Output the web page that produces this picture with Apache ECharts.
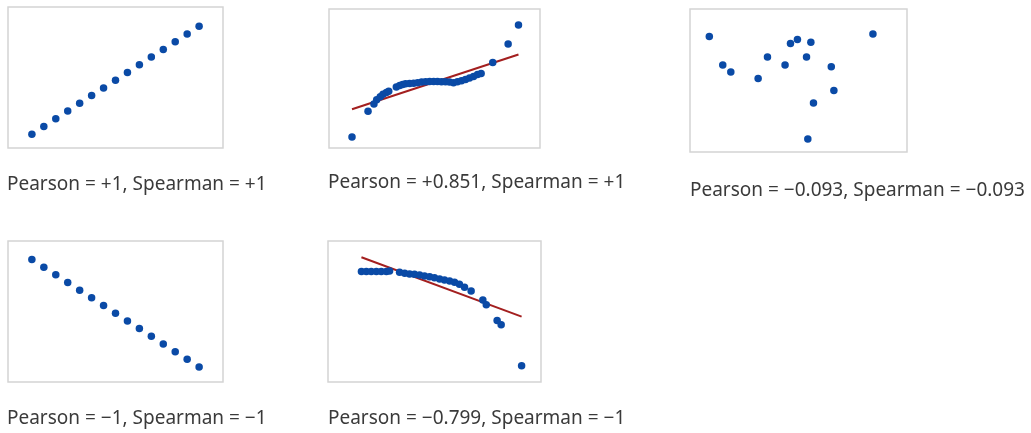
<!DOCTYPE html>
<html>
<head>
<meta charset="utf-8">
<script src="https://cdn.jsdelivr.net/npm/echarts@6/dist/echarts.min.js"></script>
<style>
  html, body { margin: 0; padding: 0; background: #fff; }
  #chart { width: 1031px; height: 433px; }
</style>
</head>
<body>
<div id="chart"></div>
<script>
// panel 1: perfect positive (rank index vs value)
const p1X = [1, 2, 3, 4, 5, 6, 7, 8, 9, 10, 11, 12, 13, 14, 15];
const p1Y = [1, 2, 3, 4, 5, 6, 7, 8, 9, 10, 11, 12, 13, 14, 15];

// panel 2: monotonic, not linear (values in % of the frame)
const p2X = [10.9, 18.5, 21.3, 22.6, 24.3, 25.6, 27.2, 28.3, 31.9, 33.5, 34.9, 36.3, 38.2, 40.1, 42.0, 43.9, 45.8,
  47.7, 49.6, 51.4, 53.3, 55.2, 57.1, 59.0, 60.9, 62.8, 64.7, 66.6, 68.5, 70.4, 72.1, 77.6, 84.9, 89.8];
const p2Y = [7.9, 26.5, 31.7, 34.8, 36.8, 38.7, 39.9, 40.9, 43.8, 45.0, 45.7, 46.3, 46.4, 46.6, 46.9, 47.4, 47.7,
  47.9, 47.9, 47.9, 47.7, 47.6, 47.4, 47.0, 47.6, 48.3, 49.2, 50.3, 51.5, 52.8, 53.6, 61.6, 74.8, 88.5];
const p2FitX = [10.9, 89.8];
const p2FitY = [27.9, 67.3];

// panel 3: no correlation
const p3X = [8.9, 15.1, 18.8, 31.4, 35.7, 43.8, 46.3, 49.5, 53.7, 55.7, 54.3, 56.9, 65.1, 66.3, 84.3];
const p3Y = [80.7, 60.9, 56.0, 51.4, 66.5, 60.9, 75.8, 78.6, 66.5, 76.8, 9.1, 34.2, 59.7, 43.0, 82.6];

// panel 4: perfect negative
const p4X = [1, 2, 3, 4, 5, 6, 7, 8, 9, 10, 11, 12, 13, 14, 15];
const p4Y = [15, 14, 13, 12, 11, 10, 9, 8, 7, 6, 5, 4, 3, 2, 1];

// panel 5: monotonic decreasing, not linear
const p5X = [15.7, 18.0, 20.3, 22.7, 25.0, 27.4, 28.9, 33.6, 36.0, 38.3, 40.6, 43.0, 45.3, 47.7, 50.0, 52.4,
  54.7, 57.1, 59.4, 61.7, 64.1, 67.2, 72.7, 74.3, 79.4, 81.3, 90.9];
const p5Y = [78.3, 78.3, 78.3, 78.3, 78.3, 78.3, 78.8, 77.8, 77.1, 76.6, 76.4, 75.9, 75.2, 74.7, 74.0, 73.1,
  72.4, 71.7, 70.8, 69.4, 67.2, 64.6, 58.2, 54.7, 43.6, 40.6, 11.5];
const p5FitX = [15.7, 90.9];
const p5FitY = [88.5, 46.4];

const captions = [
  'Pearson = +1, Spearman = +1',
  'Pearson = +0.851, Spearman = +1',
  'Pearson = \u22120.093, Spearman = \u22120.093',
  'Pearson = \u22121, Spearman = \u22121',
  'Pearson = \u22120.799, Spearman = \u22121'
];

const dotColor = '#0a4aa6';
const fitColor = '#a31f1f';

const zip = (xs, ys) => xs.map((x, i) => [x, ys[i]]);

// frames: grid box + axis ranges
const frames = [
  { left: 8, top: 7, width: 215, height: 141, x: [-1, 17], y: [-0.8, 17.5] },
  { left: 329, top: 9, width: 211, height: 139, x: [0, 100], y: [0, 100] },
  { left: 690, top: 9, width: 217, height: 143, x: [0, 100], y: [0, 100] },
  { left: 8, top: 241, width: 215, height: 141, x: [-1, 17], y: [-0.95, 17.4] },
  { left: 328, top: 241, width: 213, height: 141, x: [0, 100], y: [0, 100] }
];

// caption top-left corners
const captionPos = [[7, 175], [328, 173], [690, 181], [7, 409], [328, 409]];

let chart = echarts.init(document.getElementById('chart'));

const scatter = (i, xs, ys) => ({
  type: 'scatter',
  xAxisIndex: i,
  yAxisIndex: i,
  symbolSize: 7.5,
  itemStyle: { color: dotColor, opacity: 1 },
  data: zip(xs, ys),
  z: 3
});
const fit = (i, xs, ys) => ({
  type: 'line',
  xAxisIndex: i,
  yAxisIndex: i,
  symbol: 'none',
  lineStyle: { color: fitColor, width: 2 },
  data: zip(xs, ys),
  z: 2
});

chart.setOption({
  animation: false,
  grid: frames.map(f => ({
    left: f.left, top: f.top, width: f.width, height: f.height,
    show: true, borderColor: '#d4d4d4', borderWidth: 1.5, backgroundColor: '#fff'
  })),
  xAxis: frames.map((f, i) => ({
    type: 'value', gridIndex: i, min: f.x[0], max: f.x[1], show: false
  })),
  yAxis: frames.map((f, i) => ({
    type: 'value', gridIndex: i, min: f.y[0], max: f.y[1], show: false
  })),
  graphic: captions.map((t, i) => ({
    type: 'text',
    left: captionPos[i][0],
    top: captionPos[i][1],
    style: {
      text: t,
      fontFamily: 'Noto Sans',
      fontSize: 19,
      fill: '#3a3a3a'
    }
  })),
  series: [
    scatter(0, p1X, p1Y),
    fit(1, p2FitX, p2FitY),
    scatter(1, p2X, p2Y),
    scatter(2, p3X, p3Y),
    scatter(3, p4X, p4Y),
    fit(4, p5FitX, p5FitY),
    scatter(4, p5X, p5Y)
  ]
});
</script>
</body>
</html>
